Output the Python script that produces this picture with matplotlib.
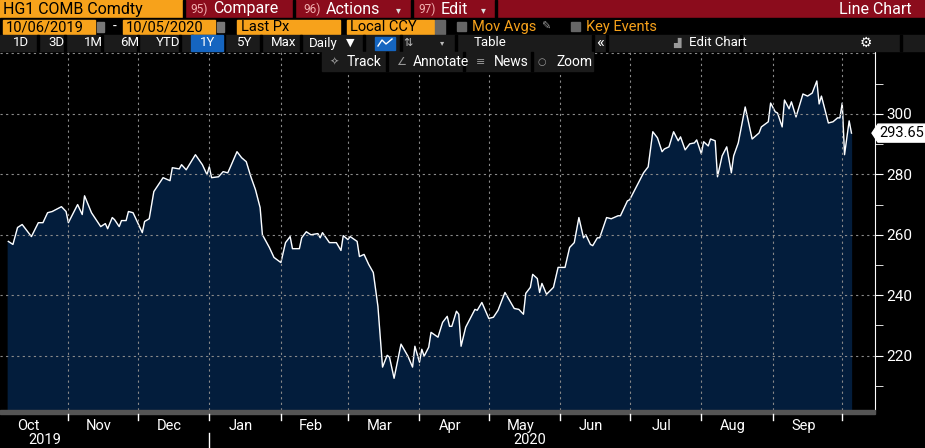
import matplotlib
matplotlib.use("Agg")
import matplotlib.pyplot as plt
import matplotlib.dates as mdates
from matplotlib.patches import Rectangle, Polygon
import numpy as np
import pandas as pd

plt.rcParams['font.family'] = ['Roboto', 'DejaVu Sans']

# days since 2019-10-01
days = [5,7,9,11,15,18,20,22,24,28,30,31,35,37,38,41,45,47,48,50,51,53,54,56,57,59,61,63,64,66,68,72,75,76,79,80,82,86,89,91,92,93,96,98,100,101,104,106,108,110,112,114,115,118,120,123,125,127,128,131,132,134,136,139,140,141,144,147,149,150,152,153,156,157,159,161,163,165,167,169,170,172,175,177,178,180,181,183,184,185,187,188,191,193,195,196,197,199,200,201,203,207,208,210,213,215,217,220,224,226,228,229,231,232,234,235,236,238,241,243,246,248,250,252,254,255,257,258,260,261,264,266,269,270,273,274,280,282,284,286,288,289,291,293,295,296,298,300,302,303,305,306,308,309,311,312,314,316,318,319,321,324,327,330,331,334,335,337,338,340,341,343,344,346,349,351,353,355,356,357,360,362,364,365,366,367,369,370]
prices = [257.8,256.8,262.4,263.4,259.4,264.0,264.0,267.3,267.7,269.3,267.7,264.0,270.0,266.7,272.9,267.3,262.7,263.7,262.0,265.7,265.0,262.7,264.7,264.7,267.7,267.3,264.0,260.7,264.4,265.3,274.3,278.9,277.9,282.2,281.8,283.2,281.5,286.5,283.2,279.9,282.5,278.9,279.2,280.9,280.5,282.2,287.5,285.5,284.2,279.2,274.9,269.0,260.0,255.8,252.5,250.8,257.4,259.4,255.4,255.4,259.0,261.0,260.0,260.4,259.0,260.7,257.4,257.4,254.8,259.7,258.4,259.4,257.8,252.8,253.5,250.2,247.5,236.3,216.2,220.1,219.5,212.5,223.8,221.1,219.8,216.2,223.1,217.8,222.1,219.8,222.8,227.7,226.1,231.0,233.0,229.7,229.7,234.7,233.7,223.1,229.4,235.3,235.0,237.6,232.3,232.7,235.0,240.9,235.6,235.3,233.7,240.6,242.6,246.9,245.5,240.9,243.9,240.3,242.6,249.2,249.2,255.8,257.4,265.7,259.0,260.0,256.8,256.4,259.0,259.0,265.7,265.3,266.3,266.3,271.2,271.6,280.5,282.5,294.1,292.1,287.5,288.4,289.1,294.1,291.1,292.4,288.1,290.1,290.4,291.4,286.8,290.8,289.4,291.7,291.1,279.2,286.1,289.1,280.5,286.1,290.4,302.3,291.7,293.7,295.7,297.4,303.6,300.7,300.3,295.7,304.6,301.7,304.0,299.0,306.6,305.9,306.9,310.9,303.3,305.9,297.0,297.4,298.7,298.7,303.6,286.5,297.7,293.65]
last_label = "293.65"
month_labels = ["Oct","Nov","Dec","Jan","Feb","Mar","Apr","May","Jun","Jul","Aug","Sep"]
yticks = [220, 240, 260, 280, 300]

dates = pd.Timestamp("2019-10-01") + pd.to_timedelta(days, unit="D")

W, H = 925, 448
fig = plt.figure(figsize=(W/100, H/100), dpi=100, facecolor="black")

def fx(px): return px / W
def fy(py): return 1 - py / H

ax = fig.add_axes([fx(0), fy(410), fx(875), (410-52)/H])
ax.set_facecolor("black")
ax.fill_between(dates, prices, 150, color="#031d3c", zorder=2)
ax.plot(dates, prices, color="white", lw=1.0, zorder=3)
ax.set_ylim(202, 320.5)
x0 = pd.Timestamp("2019-10-07") - pd.Timedelta(days=4.6)
x1 = x0 + pd.Timedelta(days=875/2.31)
ax.set_xlim(x0, x1)
mstarts = pd.date_range("2019-11-01", "2020-10-01", freq="MS")
for m in mstarts:
    ax.axvline(m, color="#8a8a8a", ls=(0, (2, 3)), lw=0.8, zorder=4)
for y in yticks:
    ax.axhline(y, color="#8a8a8a", ls=(0, (2, 3)), lw=0.8, zorder=4)
ax.axhline(320.3, color="#8a8a8a", ls=(0, (2, 3)), lw=0.8, zorder=4)
ax.set_xticks([])
ax.yaxis.tick_right()
ax.set_yticks(yticks)
ax.set_yticklabels([str(v) for v in yticks], color="white", fontsize=11)
ax.set_yticks([210, 230, 250, 270, 290, 310], minor=True)
ax.tick_params(axis="y", which="major", length=6, color="white", direction="out", pad=2)
ax.tick_params(axis="y", which="minor", length=6, color="white", direction="out")
for s in ["top", "left", "bottom"]:
    ax.spines[s].set_visible(False)
ax.spines["right"].set_color("white")

fig.patches.append(Rectangle((0, fy(414)), fx(875), 4/H, transform=fig.transFigure, color="#555555"))

ly = ax.transData.transform((0, 293.65))[1] / H
fig.patches.append(Polygon([[fx(872), ly], [fx(878), ly + 9/H], [fx(925), ly + 9/H], [fx(925), ly - 9/H], [fx(878), ly - 9/H]],
                           closed=True, transform=fig.transFigure, color="white"))
fig.text(fx(879), ly, last_label, color="black", fontsize=10.5, va="center", ha="left")

trans = ax.transData
for i, lab in enumerate(month_labels):
    start = pd.Timestamp("2019-10-01") + pd.DateOffset(months=i)
    end = start + pd.DateOffset(months=1)
    mid = start + (end - start) / 2
    xm = max(trans.transform((mdates.date2num(mid), 0))[0] - 4, 22)
    fig.text(xm / W, fy(426), lab, color="white", fontsize=10.5, ha="center", va="center")
for m in mstarts:
    xm = trans.transform((mdates.date2num(m), 0))[0]
    fig.add_artist(plt.Line2D([xm / W] * 2, [fy(414), fy(420)], color="white", lw=1, transform=fig.transFigure))
fig.text(fx(45), fy(440), "2019", color="white", fontsize=10.5, ha="center", va="center")
fig.text(fx(530), fy(440), "2020", color="white", fontsize=10.5, ha="center", va="center")
xj = trans.transform((mdates.date2num(pd.Timestamp("2020-01-01")), 0))[0]
fig.add_artist(plt.Line2D([xj / W] * 2, [fy(433), fy(448)], color="white", lw=1, transform=fig.transFigure))

def rect(x, y, w, h, c):
    fig.patches.append(Rectangle((fx(x), fy(y + h)), w / W, h / H, transform=fig.transFigure, color=c, zorder=0))

DJ = ["DejaVu Sans"]
def txt(x, y, s, c="white", size=9, ha="left", fam=None):
    kw = {"family": fam} if fam else {}
    fig.text(fx(x), fy(y), s, color=c, fontsize=size, ha=ha, va="center", **kw)

# header row 1
rect(0, 0, W, 18, "#8b0c1c")
rect(0, 0, 183, 18, "#f7a21b")
txt(3, 9.5, "HG1 COMB Comdty", "black", 11.5)
for xb in [183, 293, 411, 495]:
    rect(xb, 0, 1.5, 18, "black")
txt(190, 9, "95)", "#f2b0b0", 8.5); txt(213, 9, "Compare", "white", 11.5)
txt(303, 9, "96)", "#f2b0b0", 8.5); txt(326, 9, "Actions", "white", 11.5)
txt(396, 10, "▾", "#dddddd", 7, fam=DJ)
txt(418, 9, "97)", "#f2b0b0", 8.5); txt(441, 9, "Edit", "white", 11.5)
txt(481, 10, "▾", "#dddddd", 7, fam=DJ)
txt(912, 9, "Line Chart", "white", 11.5, "right")
# row 2
rect(0, 18, W, 17, "black")
rect(3, 20, 92, 14, "#f7a21b"); txt(6, 27, "10/06/2019", "black", 10.5)
rect(97, 22, 7, 10, "#777777")
txt(113, 27, "-", "white", 10)
rect(123, 20, 92, 14, "#f7a21b"); txt(126, 27, "10/05/2020", "black", 10.5)
rect(217, 22, 7, 10, "#777777")
rect(237, 20, 103, 14, "#f7a21b"); txt(241, 27, "Last Px", "black", 10.5)
rect(347, 20, 87, 14, "#f7a21b"); txt(350, 27, "Local CCY", "black", 10.5)
rect(435, 20, 10, 14, "#666666")
rect(457, 22, 9, 9, "#666666"); txt(472, 27, "Mov Avgs", "#f7a21b", 10.5)
txt(541, 27, "✎", "#999999", 8, fam=DJ)
rect(571, 22, 9, 9, "#666666"); txt(586, 27, "Key Events", "#f7a21b", 10.5)
# row 3
rect(0, 35, W, 16, "#1b1b1b")
for xb in [37, 64, 101, 137, 179, 191, 223, 260, 300, 363, 400, 455, 592, 606, 740, 900]:
    rect(xb, 35, 1.5, 16, "black")
rect(191, 35, 32, 16, "#1565c0")
rect(375, 37, 20, 13, "#1565c0")
fig.add_artist(plt.Line2D([fx(378), fx(382), fx(386), fx(392)], [fy(46), fy(40), fy(44), fy(39)],
                          color="white", lw=1, transform=fig.transFigure))
for x, s in [(13, "1D"), (48, "3D"), (84, "1M"), (120, "6M"), (156, "YTD"), (200, "1Y"), (237, "5Y"), (271, "Max"), (309, "Daily"), (474, "Table")]:
    txt(x, 43, s, "white", 9.5)
txt(346, 43, "▼", "white", 8, fam=DJ)
txt(403, 43, "⇅", "#bbbbbb", 8, fam=DJ); txt(440, 43, "▾", "#bbbbbb", 6, fam=DJ)
txt(596, 43, "«", "white", 12)
txt(673, 43, "▟", "#999999", 7, fam=DJ); txt(689, 43, "Edit Chart", "white", 9.5)
txt(860, 43, "⚙", "white", 10, fam=DJ)
# toolbar overlay
rect(322, 52, 271, 19, "#1b1b1b")
for xb in [386, 463, 531]:
    rect(xb, 52, 1.5, 19, "black")
txt(330, 62, "✧", "#999999", 8, fam=DJ); txt(347, 62, "Track", "white", 10)
txt(396, 62, "∠", "#999999", 8, fam=DJ); txt(413, 62, "Annotate", "white", 10)
txt(476, 62, "≡", "#999999", 8, fam=DJ); txt(494, 62, "News", "white", 10)
txt(537, 62, "○", "#999999", 7, fam=DJ); txt(556, 62, "Zoom", "white", 10)

fig.savefig("out.png", dpi=100, facecolor="black")
